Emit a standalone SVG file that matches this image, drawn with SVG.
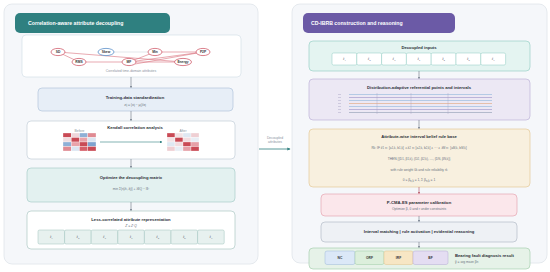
<svg xmlns="http://www.w3.org/2000/svg" width="550" height="272" viewBox="0 0 550 272">
<defs>
<marker id="ah" viewBox="0 0 6 6" refX="5" refY="3" markerWidth="4" markerHeight="4" orient="auto"><path d="M0,0 L6,3 L0,6 z" fill="#6b7785"/></marker>
<marker id="ahr" viewBox="0 0 6 6" refX="5" refY="3" markerWidth="4" markerHeight="4" orient="auto"><path d="M0,0 L6,3 L0,6 z" fill="#b24a5a"/></marker>
<marker id="aht" viewBox="0 0 6 6" refX="5" refY="3" markerWidth="4" markerHeight="4" orient="auto"><path d="M0,0 L6,3 L0,6 z" fill="#2f7f7f"/></marker>
<style>
text{font-family:"Liberation Sans",Arial,sans-serif;text-anchor:middle}
.panel{fill:#f5f7fa;stroke:#dfe4ea;stroke-width:0.8}
.hdr{fill:#fff;font-size:5.2px;font-weight:bold;text-anchor:start}
.ttl{font-size:4.2px;font-weight:bold;fill:#2b2f36}
.sub{font-size:3.3px;fill:#6a7380}
.cap{font-size:3.4px;fill:#8a939e}
.cell{font-size:3.6px;fill:#556;font-style:italic;font-family:"Liberation Serif",serif}
.node{fill:#fff;stroke:#d0606e;stroke-width:0.8}
.nt{font-size:3.3px;font-weight:bold;fill:#333}
.edge{stroke:#d9707c;stroke-width:0.6;fill:none}
.arr{stroke:#6b7785;stroke-width:0.6;fill:none}
.s{font-size:2.8px}
</style>
</defs>

<g id="left-panel">
<rect class="panel" x="4" y="4" width="254" height="260" rx="8"/>
<rect x="15" y="13" width="155" height="20" rx="5" fill="#2f8080"/>
<text class="hdr" x="28" y="25">Correlation-aware attribute decoupling</text>
</g>

<g id="attributes">
<rect x="22" y="35" width="219" height="42" rx="4" fill="#fff" stroke="#cfdbe4" stroke-width="0.6"/>
<line class="edge" x1="58" y1="52" x2="79" y2="62"/>
<line class="edge" x1="58" y1="52" x2="183" y2="62"/>
<line class="edge" x1="79" y1="62" x2="129" y2="62"/>
<line x1="106" y1="52" x2="155" y2="52" stroke="#c4cdd6" stroke-width="0.5"/>
<line class="edge" x1="155" y1="52" x2="203" y2="52"/>
<line class="edge" x1="155" y1="52" x2="129" y2="62"/>
<line class="edge" x1="203" y1="52" x2="129" y2="62"/>
<line class="edge" x1="203" y1="52" x2="135" y2="64"/>
<line class="edge" x1="129" y1="62" x2="183" y2="62"/>
<ellipse class="node" cx="58" cy="52" rx="7" ry="3.6"/><text class="nt" x="58" y="53.2">SD</text>
<ellipse cx="106" cy="52" rx="8" ry="3.6" fill="#fff" stroke="#5b8fc9" stroke-width="0.8"/><text class="nt" x="106" y="53.2">Skew</text>
<ellipse class="node" cx="155" cy="52" rx="7" ry="3.6"/><text class="nt" x="155" y="53.2">Min</text>
<ellipse class="node" cx="203" cy="52" rx="7" ry="3.6"/><text class="nt" x="203" y="53.2">P2P</text>
<ellipse class="node" cx="79" cy="62" rx="7" ry="3.6"/><text class="nt" x="79" y="63.2">RMS</text>
<ellipse class="node" cx="129" cy="62" rx="7" ry="3.6"/><text class="nt" x="129" y="63.2">MF</text>
<ellipse class="node" cx="183" cy="62" rx="8.5" ry="3.6"/><text class="nt" x="183" y="63.2">Energy</text>
<text class="cap" x="131" y="72">Correlated time-domain attributes</text>
</g>

<g id="standardization">
<rect x="38" y="88" width="195" height="23" rx="4" fill="#e7eef7" stroke="#a8bed6" stroke-width="0.6"/>
<text class="ttl" x="135" y="99">Training-data standardization</text>
<text class="sub" x="135" y="105.5">z<tspan class="s" dy="0.8">ij</tspan><tspan dy="-0.8"> = (x</tspan><tspan class="s" dy="0.8">ij</tspan><tspan dy="-0.8"> − μ</tspan><tspan class="s" dy="0.8">j</tspan><tspan dy="-0.8">)/σ</tspan><tspan class="s" dy="0.8">j</tspan></text>
</g>

<g id="kendall">
<rect x="27" y="121" width="208" height="38" rx="4" fill="#fff" stroke="#b9c6d2" stroke-width="0.6"/>
<text class="ttl" x="135" y="129">Kendall correlation analysis</text>
<text class="cap" x="79.5" y="131.8">Before</text>
<g stroke="#fff" stroke-width="0.3">
<rect x="63" y="133" width="8.25" height="4.5" fill="#c94a55"/><rect x="71.25" y="133" width="8.25" height="4.5" fill="#efd6da"/><rect x="79.5" y="133" width="8.25" height="4.5" fill="#8fb0d6"/><rect x="87.75" y="133" width="8.25" height="4.5" fill="#e08a92"/>
<rect x="63" y="137.5" width="8.25" height="4.5" fill="#f0dde0"/><rect x="71.25" y="137.5" width="8.25" height="4.5" fill="#c94a55"/><rect x="79.5" y="137.5" width="8.25" height="4.5" fill="#e9a3aa"/><rect x="87.75" y="137.5" width="8.25" height="4.5" fill="#dbe5f1"/>
<rect x="63" y="142" width="8.25" height="4.5" fill="#8fb0d6"/><rect x="71.25" y="142" width="8.25" height="4.5" fill="#e9a3aa"/><rect x="79.5" y="142" width="8.25" height="4.5" fill="#c94a55"/><rect x="87.75" y="142" width="8.25" height="4.5" fill="#7fa3cf"/>
<rect x="63" y="146.5" width="8.25" height="4.5" fill="#e08a92"/><rect x="71.25" y="146.5" width="8.25" height="4.5" fill="#dbe5f1"/><rect x="79.5" y="146.5" width="8.25" height="4.5" fill="#d65f69"/><rect x="87.75" y="146.5" width="8.25" height="4.5" fill="#c94a55"/>
</g>
<line x1="100" y1="142" x2="162" y2="142" stroke="#2f7f7f" stroke-width="0.6" marker-end="url(#aht)"/>
<text class="cap" x="183" y="131.8">After</text>
<g stroke="#fff" stroke-width="0.3">
<rect x="167" y="133" width="8" height="4.5" fill="#c94a55"/><rect x="175" y="133" width="8" height="4.5" fill="#f3e3e5"/><rect x="183" y="133" width="8" height="4.5" fill="#dfe8f2"/><rect x="191" y="133" width="8" height="4.5" fill="#efcfd3"/>
<rect x="167" y="137.5" width="8" height="4.5" fill="#f3e3e5"/><rect x="175" y="137.5" width="8" height="4.5" fill="#c94a55"/><rect x="183" y="137.5" width="8" height="4.5" fill="#f2dcdf"/><rect x="191" y="137.5" width="8" height="4.5" fill="#e8eef5"/>
<rect x="167" y="142" width="8" height="4.5" fill="#dfe8f2"/><rect x="175" y="142" width="8" height="4.5" fill="#f2dcdf"/><rect x="183" y="142" width="8" height="4.5" fill="#c94a55"/><rect x="191" y="142" width="8" height="4.5" fill="#e6a0a7"/>
<rect x="167" y="146.5" width="8" height="4.5" fill="#efcfd3"/><rect x="175" y="146.5" width="8" height="4.5" fill="#e8eef5"/><rect x="183" y="146.5" width="8" height="4.5" fill="#e6a0a7"/><rect x="191" y="146.5" width="8" height="4.5" fill="#c94a55"/>
</g>
</g>

<g id="optimize">
<rect x="27" y="168" width="208" height="34" rx="4" fill="#e3f1f0" stroke="#9dc8c3" stroke-width="0.6"/>
<text class="ttl" x="131" y="179">Optimize the decoupling matrix</text>
<text class="sub" x="131" y="189.5">min Σ|τ(z̃<tspan class="s" dy="0.8">i</tspan><tspan dy="-0.8">, z̃</tspan><tspan class="s" dy="0.8">j</tspan><tspan dy="-0.8">)| + λ‖Q − I‖²</tspan></text>
</g>

<g id="less-correlated">
<rect x="27" y="211" width="208" height="38" rx="4" fill="#fff" stroke="#9fbfbb" stroke-width="0.6"/>
<text class="ttl" x="131" y="221">Less-correlated attribute representation</text>
<text class="sub" x="131" y="227.2" font-style="italic" font-family="Liberation Serif,serif">Z̃ = Z·Q</text>
<g fill="#e7f1ef" stroke="#9cc0bb" stroke-width="0.5">
<rect x="38" y="230" width="26.6" height="14" rx="1.5"/><rect x="64.6" y="230" width="26.6" height="14" rx="1.5"/><rect x="91.2" y="230" width="26.6" height="14" rx="1.5"/><rect x="117.8" y="230" width="26.6" height="14" rx="1.5"/><rect x="144.4" y="230" width="26.6" height="14" rx="1.5"/><rect x="171" y="230" width="26.6" height="14" rx="1.5"/><rect x="197.6" y="230" width="26.6" height="14" rx="1.5"/>
</g>
<text class="cell" x="51.3" y="238">z̃<tspan class="s" dy="0.8">1</tspan></text>
<text class="cell" x="77.9" y="238">z̃<tspan class="s" dy="0.8">2</tspan></text>
<text class="cell" x="104.5" y="238">z̃<tspan class="s" dy="0.8">3</tspan></text>
<text class="cell" x="131.1" y="238">z̃<tspan class="s" dy="0.8">4</tspan></text>
<text class="cell" x="157.7" y="238">z̃<tspan class="s" dy="0.8">5</tspan></text>
<text class="cell" x="184.3" y="238">z̃<tspan class="s" dy="0.8">6</tspan></text>
<text class="cell" x="210.9" y="238">z̃<tspan class="s" dy="0.8">7</tspan></text>
</g>

<g id="right-panel">
<rect class="panel" x="292" y="4" width="255" height="259" rx="8"/>
<rect x="303" y="13" width="152" height="20" rx="5" fill="#6b5aa6"/>
<text class="hdr" x="311" y="25">CD-IBRB construction and reasoning</text>
</g>

<g id="decoupled-inputs">
<rect x="309" y="41" width="221" height="30" rx="4" fill="#e4f4f1" stroke="#8ccbc0" stroke-width="0.6"/>
<text class="ttl" x="419" y="49">Decoupled inputs</text>
<g fill="#fff" stroke="#8ccbc0" stroke-width="0.5">
<rect x="332" y="53" width="24.8" height="12" rx="1.5"/><rect x="356.8" y="53" width="24.8" height="12" rx="1.5"/><rect x="381.6" y="53" width="24.8" height="12" rx="1.5"/><rect x="406.4" y="53" width="24.8" height="12" rx="1.5"/><rect x="431.2" y="53" width="24.8" height="12" rx="1.5"/><rect x="456" y="53" width="24.8" height="12" rx="1.5"/><rect x="480.8" y="53" width="24.8" height="12" rx="1.5"/>
</g>
<text class="cell" x="344.4" y="60">z̃<tspan class="s" dy="0.8">1</tspan></text>
<text class="cell" x="369.2" y="60">z̃<tspan class="s" dy="0.8">2</tspan></text>
<text class="cell" x="394" y="60">z̃<tspan class="s" dy="0.8">3</tspan></text>
<text class="cell" x="418.8" y="60">z̃<tspan class="s" dy="0.8">4</tspan></text>
<text class="cell" x="443.6" y="60">z̃<tspan class="s" dy="0.8">5</tspan></text>
<text class="cell" x="468.4" y="60">z̃<tspan class="s" dy="0.8">6</tspan></text>
<text class="cell" x="493.2" y="60">z̃<tspan class="s" dy="0.8">7</tspan></text>
</g>

<g id="referential-points">
<rect x="309" y="79" width="221" height="41" rx="4" fill="#ece8f4" stroke="#b5aad4" stroke-width="0.6"/>
<text class="ttl" x="419" y="89">Distribution-adaptive referential points and intervals</text>
<g stroke-width="0.6">
<line x1="349" y1="94.5" x2="492" y2="94.5" stroke="#8fb6da"/>
<line x1="349" y1="97.5" x2="492" y2="97.5" stroke="#9a8fc6"/>
<line x1="349" y1="100.5" x2="492" y2="100.5" stroke="#8fb6da"/>
<line x1="349" y1="103.5" x2="492" y2="103.5" stroke="#e0a277"/>
<line x1="349" y1="106.5" x2="492" y2="106.5" stroke="#8fb6da"/>
<line x1="349" y1="109.5" x2="492" y2="109.5" stroke="#9a8fc6"/>
<line x1="349" y1="112.5" x2="492" y2="112.5" stroke="#8d9ab0"/>
</g>
<g stroke="#a9a3c0" stroke-width="0.4">
<line x1="377" y1="93" x2="377" y2="114"/><line x1="411" y1="93" x2="411" y2="114"/><line x1="448" y1="93" x2="448" y2="114"/>
</g>
<g stroke="#b9b3cf" stroke-width="0.6">
<line x1="338" y1="94.5" x2="341" y2="94.5"/><line x1="338" y1="97.5" x2="341" y2="97.5"/><line x1="338" y1="100.5" x2="341" y2="100.5"/><line x1="338" y1="103.5" x2="341" y2="103.5"/><line x1="338" y1="106.5" x2="341" y2="106.5"/><line x1="338" y1="109.5" x2="341" y2="109.5"/><line x1="338" y1="112.5" x2="341" y2="112.5"/>
</g>
</g>

<g id="rule-base">
<rect x="309" y="129" width="221" height="58" rx="4" fill="#f8f0df" stroke="#e1c38a" stroke-width="0.6"/>
<text class="ttl" x="419" y="138">Attribute-wise interval belief rule base</text>
<text class="sub" x="419" y="148.5" fill="#4d5560">R<tspan class="s" dy="0.8">k</tspan><tspan dy="-0.8">: IF z̃</tspan><tspan class="s" dy="0.8">1</tspan><tspan dy="-0.8"> ∈ [a</tspan><tspan class="s" dy="0.8">1,k</tspan><tspan dy="-0.8">, b</tspan><tspan class="s" dy="0.8">1,k</tspan><tspan dy="-0.8">] ∧ z̃</tspan><tspan class="s" dy="0.8">2</tspan><tspan dy="-0.8"> ∈ [a</tspan><tspan class="s" dy="0.8">2,k</tspan><tspan dy="-0.8">, b</tspan><tspan class="s" dy="0.8">2,k</tspan><tspan dy="-0.8">] ∧ ··· ∧ z̃</tspan><tspan class="s" dy="0.8">M</tspan><tspan dy="-0.8"> ∈ [a</tspan><tspan class="s" dy="0.8">M,k</tspan><tspan dy="-0.8">, b</tspan><tspan class="s" dy="0.8">M,k</tspan><tspan dy="-0.8">]</tspan></text>
<text class="sub" x="419" y="159.5" fill="#4d5560">THEN {(D<tspan class="s" dy="0.8">1</tspan><tspan dy="-0.8">, β</tspan><tspan class="s" dy="0.8">1,k</tspan><tspan dy="-0.8">), (D</tspan><tspan class="s" dy="0.8">2</tspan><tspan dy="-0.8">, β</tspan><tspan class="s" dy="0.8">2,k</tspan><tspan dy="-0.8">), …, (D</tspan><tspan class="s" dy="0.8">N</tspan><tspan dy="-0.8">, β</tspan><tspan class="s" dy="0.8">N,k</tspan><tspan dy="-0.8">)}</tspan></text>
<text class="sub" x="419" y="170.5">with rule weight θ<tspan class="s" dy="0.8">k</tspan><tspan dy="-0.8"> and rule reliability r</tspan><tspan class="s" dy="0.8">k</tspan></text>
<text class="sub" x="419" y="181" fill="#4d5560">0 ≤ β<tspan class="s" dy="0.8">n,k</tspan><tspan dy="-0.8"> ≤ 1,     Σ β</tspan><tspan class="s" dy="0.8">n,k</tspan><tspan dy="-0.8"> = 1</tspan></text>
</g>

<g id="calibration">
<rect x="321" y="194" width="196" height="22" rx="4" fill="#fbe7eb" stroke="#e19aa8" stroke-width="0.6"/>
<text class="ttl" x="419" y="203.5">P-CMA-ES parameter calibration</text>
<text class="sub" x="419" y="210">Optimize β, θ and r under constraints</text>
</g>

<g id="reasoning">
<rect x="321" y="222" width="196" height="20" rx="4" fill="#eef1f5" stroke="#a9b4c1" stroke-width="0.6"/>
<text class="ttl" x="419" y="233" font-weight="normal" fill="#333">Interval matching  |  rule activation  |  evidential reasoning</text>
</g>

<g id="result">
<rect x="309" y="248" width="221" height="21" rx="4" fill="#e6f2e8" stroke="#9ccaa5" stroke-width="0.6"/>
<rect x="325" y="251" width="30" height="13.5" rx="2" fill="#dbe8f7" stroke="#9db8d8" stroke-width="0.5"/>
<rect x="355" y="251" width="29" height="13.5" rx="2" fill="#dcefdc" stroke="#9ccaa5" stroke-width="0.5"/>
<rect x="384" y="251" width="29" height="13.5" rx="2" fill="#f7e6c4" stroke="#e1c38a" stroke-width="0.5"/>
<rect x="413" y="251" width="35" height="13.5" rx="2" fill="#e4ddf2" stroke="#b5aad4" stroke-width="0.5"/>
<text class="nt" x="340" y="259" font-weight="normal">NC</text>
<text class="nt" x="369.5" y="259" font-weight="normal">ORF</text>
<text class="nt" x="398.5" y="259" font-weight="normal">IRF</text>
<text class="nt" x="430.5" y="259" font-weight="normal">BF</text>
<text class="ttl" x="455" y="257" style="text-anchor:start">Bearing fault diagnosis result</text>
<text class="sub" x="455" y="262.5" style="text-anchor:start">ŷ = arg max<tspan class="s" dy="0.8">n</tspan><tspan dy="-0.8"> β</tspan><tspan class="s" dy="0.8">n</tspan></text>
</g>

<g id="connectors">
<line class="arr" x1="131" y1="77" x2="131" y2="87.5" marker-end="url(#ah)"/>
<line class="arr" x1="131" y1="111" x2="131" y2="120.5" marker-end="url(#ah)"/>
<line class="arr" x1="131" y1="159" x2="131" y2="167.5" marker-end="url(#ah)"/>
<line class="arr" x1="131" y1="202" x2="131" y2="210.5" marker-end="url(#ah)"/>
<line class="arr" x1="419" y1="71" x2="419" y2="78.5" marker-end="url(#ah)"/>
<line class="arr" x1="419" y1="120" x2="419" y2="128.5" marker-end="url(#ah)"/>
<line x1="419" y1="187" x2="419" y2="193.5" stroke="#b24a5a" stroke-width="0.6" marker-end="url(#ahr)"/>
<line class="arr" x1="419" y1="216" x2="419" y2="221.5" marker-end="url(#ah)"/>
<line class="arr" x1="419" y1="242" x2="419" y2="247.5" marker-end="url(#ah)"/>
<line x1="259" y1="149" x2="290" y2="149" stroke="#2f7f7f" stroke-width="0.8" marker-end="url(#aht)"/>
<text class="cap" x="275" y="138.5" fill="#2f7f7f">Decoupled</text>
<text class="cap" x="275" y="142.5" fill="#2f7f7f">attributes</text>
</g>
</svg>
